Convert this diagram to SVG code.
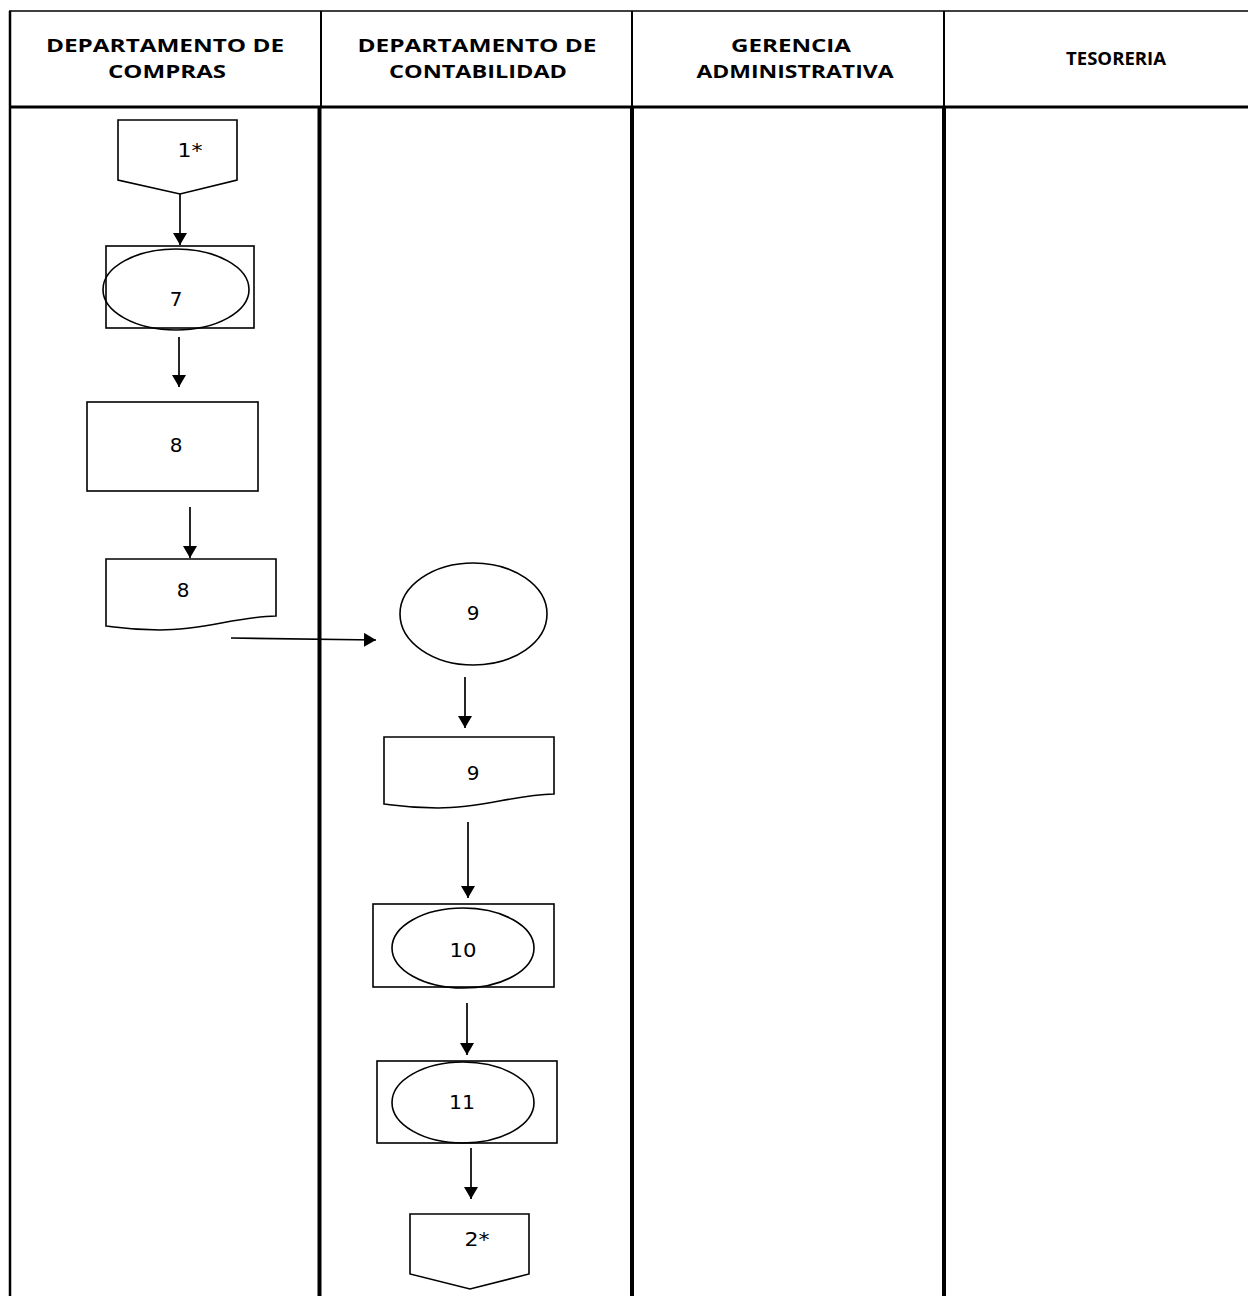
<svg xmlns="http://www.w3.org/2000/svg" width="1248" height="1296" viewBox="0 0 1248 1296">
  <style>
    .grid { stroke: #000; fill: none; }
    .hdr { font-family: "Open Sans", "Liberation Sans", sans-serif; font-weight: bold; font-size: 18px; fill: #000; text-anchor: middle; }
    .shape { stroke: #000; stroke-width: 1.6; fill: #fff; }
    .oval { stroke: #000; stroke-width: 1.6; fill: none; }
    .lbl { font-family: "DejaVu Sans", "Verdana", sans-serif; font-size: 20px; fill: #000; text-anchor: middle; }
    .flow { stroke: #000; stroke-width: 1.7; fill: none; marker-end: url(#arrow); }
  </style>
  <defs>
    <marker id="arrow" markerWidth="14" markerHeight="14" refX="12" refY="7" orient="auto" markerUnits="userSpaceOnUse">
      <path d="M0,0 L12,7 L0,14 Z" fill="#000"/>
    </marker>
  </defs>

  <rect width="1248" height="1296" fill="#fff"/>

  <!-- swimlane table -->
  <g id="lanes">
    <line class="grid" x1="9" y1="11" x2="1248" y2="11" stroke-width="1.5"/>
    <line class="grid" x1="9" y1="107" x2="1248" y2="107" stroke-width="3"/>
    <line class="grid" x1="10" y1="11" x2="10" y2="1296" stroke-width="2.5"/>
    <line class="grid" x1="321" y1="11" x2="321" y2="107" stroke-width="2"/>
    <line class="grid" x1="319.5" y1="107" x2="319.5" y2="1296" stroke-width="4"/>
    <line class="grid" x1="632" y1="11" x2="632" y2="107" stroke-width="2"/>
    <line class="grid" x1="632" y1="107" x2="632" y2="1296" stroke-width="4"/>
    <line class="grid" x1="944" y1="11" x2="944" y2="107" stroke-width="2"/>
    <line class="grid" x1="944" y1="107" x2="944" y2="1296" stroke-width="4"/>
  </g>

  <g id="lane-headers">
    <text class="hdr" x="165" y="52" textLength="238" lengthAdjust="spacingAndGlyphs">DEPARTAMENTO DE</text>
    <text class="hdr" x="167" y="78" textLength="118" lengthAdjust="spacingAndGlyphs">COMPRAS</text>
    <text class="hdr" x="477" y="52" textLength="239" lengthAdjust="spacingAndGlyphs">DEPARTAMENTO DE</text>
    <text class="hdr" x="478" y="78" textLength="178" lengthAdjust="spacingAndGlyphs">CONTABILIDAD</text>
    <text class="hdr" x="791" y="52" textLength="120" lengthAdjust="spacingAndGlyphs">GERENCIA</text>
    <text class="hdr" x="795" y="78" textLength="197" lengthAdjust="spacingAndGlyphs">ADMINISTRATIVA</text>
    <text class="hdr" x="1116" y="65" textLength="100" lengthAdjust="spacingAndGlyphs">TESORERIA</text>
  </g>

  <!-- connectors -->
  <g id="connectors">
    <line class="flow" x1="180" y1="194" x2="180" y2="245"/>
    <line class="flow" x1="179" y1="337" x2="179" y2="387"/>
    <line class="flow" x1="190" y1="507" x2="190" y2="558"/>
    <line class="flow" x1="231" y1="638" x2="376" y2="640"/>
    <line class="flow" x1="465" y1="677" x2="465" y2="728"/>
    <line class="flow" x1="468" y1="822" x2="468" y2="898"/>
    <line class="flow" x1="467" y1="1003" x2="467" y2="1055"/>
    <line class="flow" x1="471" y1="1148" x2="471" y2="1199"/>
  </g>

  <!-- nodes -->
  <g id="node-1">
    <path class="shape" d="M118,120 H237 V180 L180,194 L118,180 Z"/>
    <text class="lbl" x="190" y="157" textLength="25" lengthAdjust="spacingAndGlyphs">1*</text>
  </g>

  <g id="node-7">
    <rect class="shape" x="106" y="246" width="148" height="82"/>
    <ellipse class="oval" cx="176" cy="289.5" rx="73" ry="40.5"/>
    <text class="lbl" x="176" y="306">7</text>
  </g>

  <g id="node-8a">
    <rect class="shape" x="87" y="402" width="171" height="89"/>
    <text class="lbl" x="176" y="452">8</text>
  </g>

  <g id="node-8b">
    <path class="shape" d="M106,559 H276 V616 C235,617 205,630 160,630 C130,630 115,627 106,626 Z"/>
    <text class="lbl" x="183" y="597">8</text>
  </g>

  <g id="node-9a">
    <ellipse class="shape" cx="473.5" cy="614" rx="73.5" ry="51"/>
    <text class="lbl" x="473" y="620">9</text>
  </g>

  <g id="node-9b">
    <path class="shape" d="M384,737 H554 V794 C513,795 483,808 438,808 C408,808 393,805 384,804 Z"/>
    <text class="lbl" x="473" y="780">9</text>
  </g>

  <g id="node-10">
    <rect class="shape" x="373" y="904" width="181" height="83"/>
    <ellipse class="oval" cx="463" cy="948" rx="71" ry="40"/>
    <text class="lbl" x="463" y="957" textLength="27" lengthAdjust="spacingAndGlyphs">10</text>
  </g>

  <g id="node-11">
    <rect class="shape" x="377" y="1061" width="180" height="82"/>
    <ellipse class="oval" cx="463" cy="1102.5" rx="71" ry="40.5"/>
    <text class="lbl" x="462" y="1109" textLength="26" lengthAdjust="spacingAndGlyphs">11</text>
  </g>

  <g id="node-2">
    <path class="shape" d="M410,1214 H529 V1274 L470,1289 L410,1274 Z"/>
    <text class="lbl" x="477" y="1246" textLength="25" lengthAdjust="spacingAndGlyphs">2*</text>
  </g>
</svg>
